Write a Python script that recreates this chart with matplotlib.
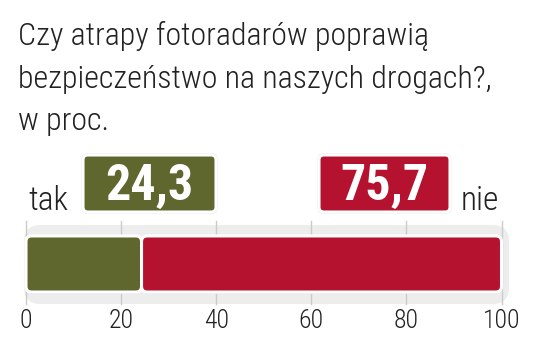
import matplotlib

matplotlib.use("Agg")
import matplotlib.pyplot as plt
from matplotlib.patches import FancyBboxPatch

# ── Data ────────────────────────────────────────────────────────────────────
title_lines = [
    "Czy atrapy fotoradarów poprawią",
    "bezpieczeństwo na naszych drogach?,",
    "w proc.",
]
answers = ["tak", "nie"]
shares = [24.3, 75.7]
colors = ["#5f672e", "#b5122f"]
tick_values = [0, 20, 40, 60, 80, 100]
tick_labels = ["0", "20", "40", "60", "80", "100"]

COND = ["Roboto Condensed", "DejaVu Sans"]
INK = "#222222"

W, H = 534, 353
fig = plt.figure(figsize=(W / 100, H / 100), dpi=100)
fig.patch.set_facecolor("white")

# ── Bar axes (data coords) ──────────────────────────────────────────────────
ax = fig.add_axes([26 / W, (H - 304) / H, 475.5 / W, 81 / H])
ax.set_xlim(0, 100)
ax.set_ylim(0, 1)
for s in ax.spines.values():
    s.set_visible(False)
ax.set_facecolor("none")
ax.set_yticks([])
ax.set_xticks(tick_values)
ax.set_xticklabels(tick_labels, family=COND, fontweight="light",
                   fontsize=18.5, color=INK)
ax.tick_params(axis="x", length=0, pad=3.5)

px_x = 475.5 / 100   # pixels per x unit
px_y = 81.0          # pixels per y unit
aspect = px_x / px_y

# soft gray track behind the bar
track = FancyBboxPatch((-0.4, 0.0), 102.0, 0.975,
                       boxstyle="round,pad=0,rounding_size=3.5",
                       mutation_aspect=aspect, facecolor="#ededed",
                       edgecolor="none", zorder=0, clip_on=False)
ax.add_patch(track)

for v in tick_values:
    ax.plot([v, v], [0, 1.03], color="#cbcbcb", lw=1, zorder=1, clip_on=False)

bar_lo, bar_hi = 0.148, 0.84
left = 0.0
for val, col in zip(shares, colors):
    # faint shadow, then white-rimmed rounded segment
    ax.add_patch(FancyBboxPatch((left, bar_lo - 0.02), val, bar_hi - bar_lo,
                                boxstyle="round,pad=0,rounding_size=1.2",
                                mutation_aspect=aspect, facecolor="#d9d9d9",
                                edgecolor="none", zorder=2, clip_on=False))
    ax.add_patch(FancyBboxPatch((left, bar_lo), val, bar_hi - bar_lo,
                                boxstyle="round,pad=0,rounding_size=1.2",
                                mutation_aspect=aspect, facecolor=col,
                                edgecolor="white", lw=2.2, zorder=3,
                                clip_on=False))
    left += val

# ── Overlay in pixel coords for the text and label boxes ───────────────────
ov = fig.add_axes([0, 0, 1, 1])
ov.set_xlim(0, W)
ov.set_ylim(H, 0)
ov.axis("off")
ov.patch.set_alpha(0)

for line, y in zip(title_lines, [45, 88, 130]):
    ov.text(18, y, line, family=COND, fontweight="light", fontsize=23,
            color=INK, ha="left", va="baseline")

ov.text(28, 210, answers[0], family=COND, fontweight="light", fontsize=24,
        color=INK, ha="left", va="baseline")
ov.text(461, 210, answers[1], family=COND, fontweight="light", fontsize=24,
        color=INK, ha="left", va="baseline")

boxes = [(83, 133), (319, 131)]   # left px, width px
for (bx, bw), val, col in zip(boxes, shares, colors):
    ov.add_patch(FancyBboxPatch((bx - 1.5, 153.5), bw + 3, 60,
                                boxstyle="round,pad=0,rounding_size=6",
                                facecolor="#d6d6d6", edgecolor="none",
                                zorder=1))
    ov.add_patch(FancyBboxPatch((bx, 155), bw, 57,
                                boxstyle="round,pad=0,rounding_size=5",
                                facecolor=col, edgecolor="white", lw=2.2,
                                zorder=2))
    ov.text(bx + bw / 2, 200, f"{val:.1f}".replace(".", ","), family=COND,
            fontsize=36, fontweight="bold", color="white",
            ha="center", va="baseline", zorder=3)

fig.savefig("out.png", dpi=100)
